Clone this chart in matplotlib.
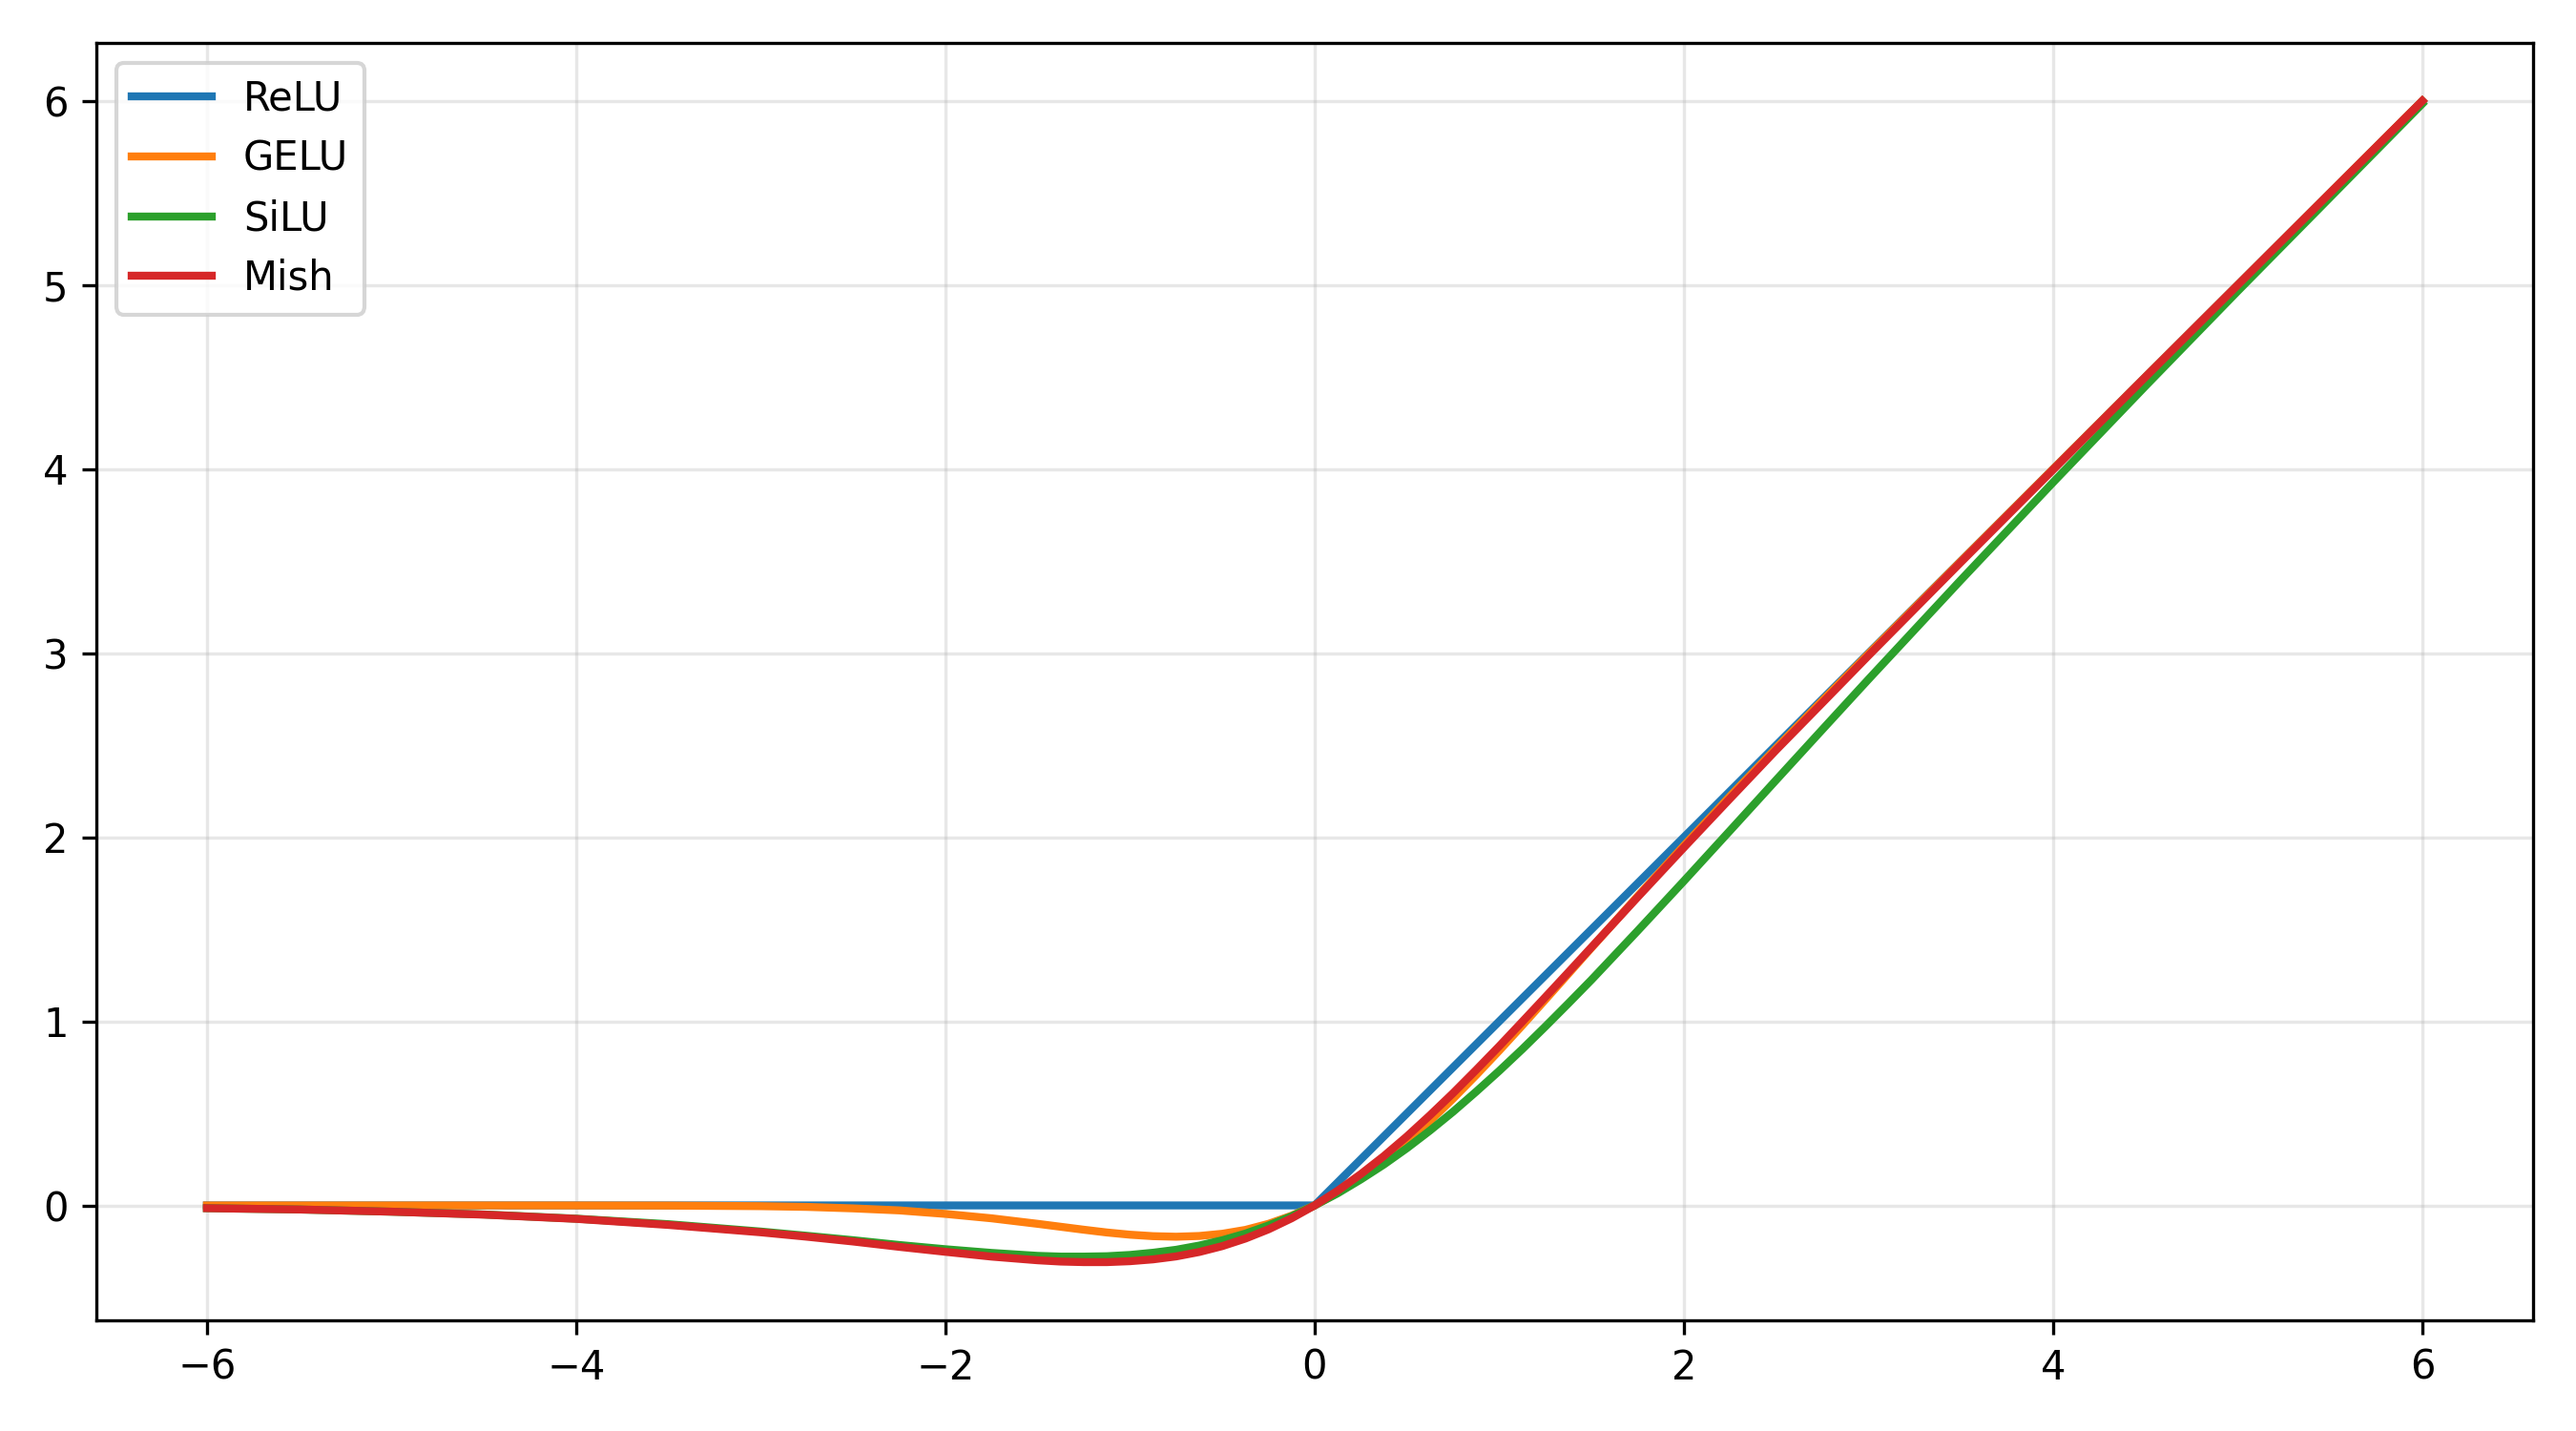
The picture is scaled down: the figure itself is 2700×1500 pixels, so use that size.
import matplotlib
matplotlib.use("Agg")
import matplotlib.pyplot as plt

# values
x = [-6, -5.5, -5, -4.5, -4, -3.5, -3, -2.75, -2.5, -2.25, -2, -1.75, -1.5,
     -1.375, -1.25, -1.125, -1, -0.875, -0.75, -0.625, -0.5, -0.375, -0.25,
     -0.125, 0, 0.125, 0.25, 0.375, 0.5, 0.625, 0.75, 0.875, 1, 1.125, 1.25,
     1.375, 1.5, 1.75, 2, 2.25, 2.5, 2.75, 3, 3.5, 4, 4.5, 5, 6]

relu = [0] * 25 + [0.125, 0.25, 0.375, 0.5, 0.625, 0.75, 0.875, 1, 1.125, 1.25,
                   1.375, 1.5, 1.75, 2, 2.25, 2.5, 2.75, 3, 3.5, 4, 4.5, 5, 6]

gelu = [0, 0, 0, 0, -0.0001, -0.0008, -0.004, -0.008, -0.016, -0.027, -0.046,
        -0.070, -0.100, -0.116, -0.132, -0.147, -0.159, -0.167, -0.170, -0.166,
        -0.154, -0.133, -0.100, -0.056, 0, 0.069, 0.150, 0.242, 0.346, 0.459,
        0.580, 0.708, 0.841, 0.978, 1.118, 1.259, 1.400, 1.680, 1.954, 2.223,
        2.484, 2.742, 2.996, 3.499, 4.0, 4.5, 5.0, 6.0]

silu = [-0.015, -0.022, -0.034, -0.049, -0.072, -0.102, -0.142, -0.165, -0.189,
        -0.215, -0.238, -0.258, -0.274, -0.278, -0.278, -0.276, -0.269, -0.257,
        -0.241, -0.218, -0.189, -0.153, -0.109, -0.059, 0, 0.066, 0.141, 0.222,
        0.311, 0.407, 0.509, 0.618, 0.731, 0.849, 0.972, 1.098, 1.226, 1.492,
        1.762, 2.036, 2.311, 2.585, 2.858, 3.397, 3.928, 4.451, 4.967, 5.985]

mish = [-0.015, -0.022, -0.034, -0.050, -0.073, -0.106, -0.146, -0.170, -0.196,
        -0.225, -0.252, -0.278, -0.298, -0.305, -0.308, -0.308, -0.303, -0.293,
        -0.277, -0.253, -0.221, -0.180, -0.130, -0.070, 0, 0.080, 0.170, 0.268,
        0.375, 0.490, 0.610, 0.736, 0.865, 0.998, 1.132, 1.267, 1.403, 1.675,
        1.944, 2.210, 2.474, 2.730, 2.987, 3.494, 3.997, 4.500, 5.0, 6.0]

plt.figure(figsize=(9, 5), dpi=300)
plt.plot(x, relu, label="ReLU", linewidth=2)
plt.plot(x, gelu, label="GELU", linewidth=2)
plt.plot(x, silu, label="SiLU", linewidth=2)
plt.plot(x, mish, label="Mish", linewidth=2)
plt.grid(True, alpha=0.3)
plt.legend(loc="upper left")
plt.tight_layout()
plt.savefig("out.png", dpi=300)
